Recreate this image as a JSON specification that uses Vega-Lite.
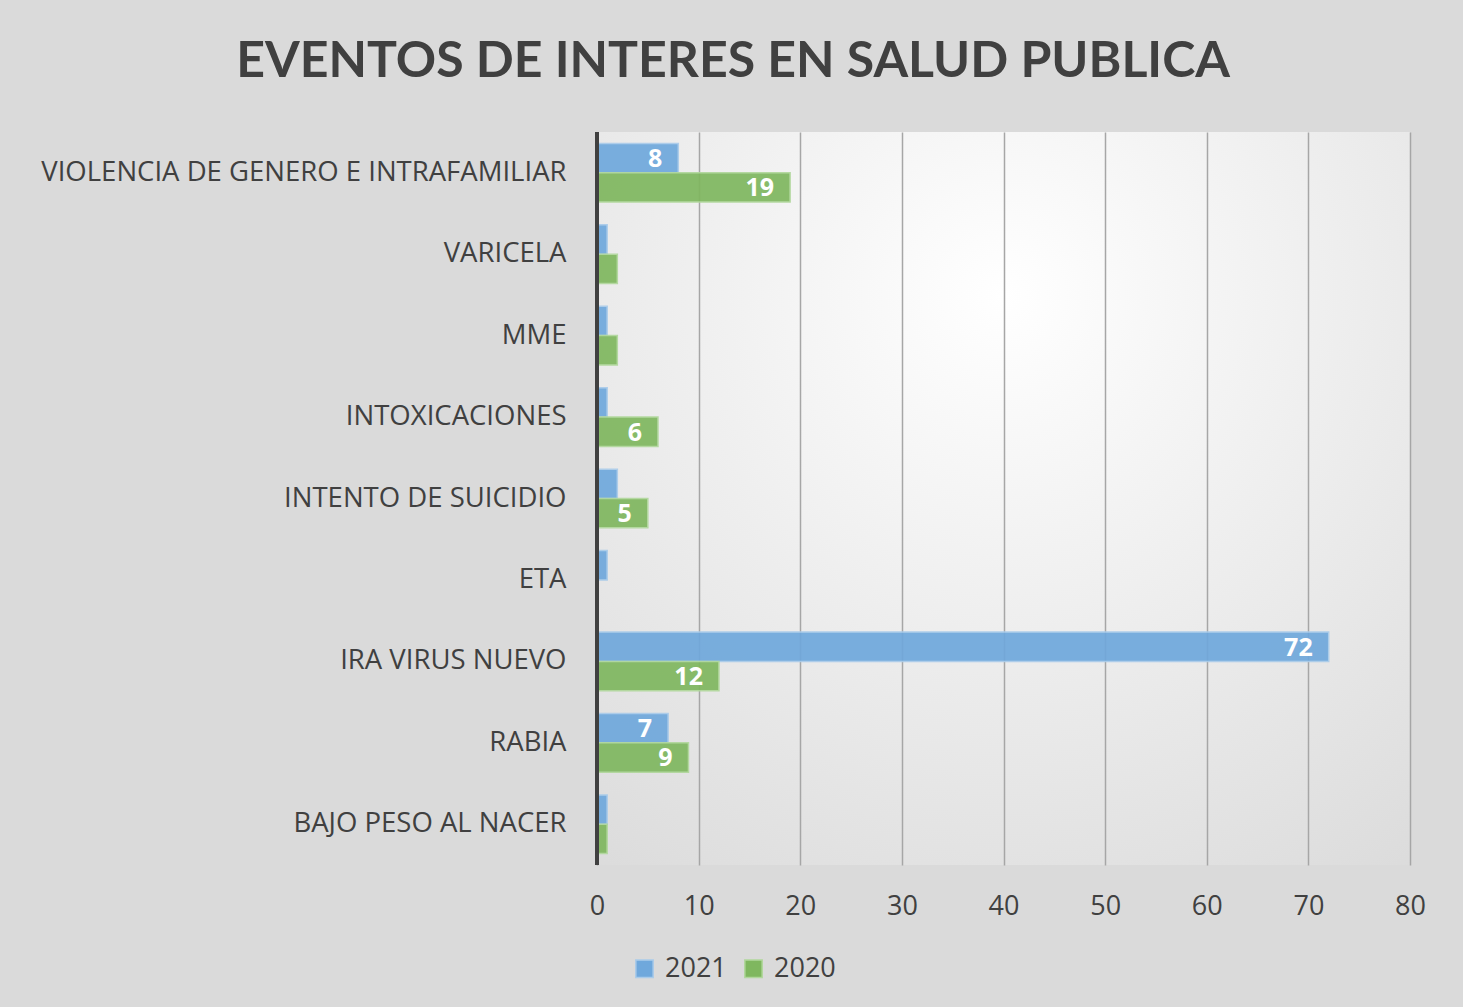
{
  "$schema": "https://vega.github.io/schema/vega-lite/v6.json",
  "autosize": {"type": "none"},
  "padding": {"left": 597, "top": 132, "right": 53, "bottom": 142},
  "width": 813,
  "height": 733,
  "background": "#dadada",
  "title": {
    "text": "EVENTOS DE INTERES EN SALUD PUBLICA",
    "font": "Lato",
    "fontWeight": "bold",
    "fontSize": 50,
    "color": "#404040",
    "anchor": "middle",
    "frame": "bounds",
    "offset": 44
  },
  "data": {
    "values": [
      {"evento": "VIOLENCIA DE GENERO E INTRAFAMILIAR", "anio": "2021", "casos": 8},
      {"evento": "VIOLENCIA DE GENERO E INTRAFAMILIAR", "anio": "2020", "casos": 19},
      {"evento": "VARICELA", "anio": "2021", "casos": 1},
      {"evento": "VARICELA", "anio": "2020", "casos": 2},
      {"evento": "MME", "anio": "2021", "casos": 1},
      {"evento": "MME", "anio": "2020", "casos": 2},
      {"evento": "INTOXICACIONES", "anio": "2021", "casos": 1},
      {"evento": "INTOXICACIONES", "anio": "2020", "casos": 6},
      {"evento": "INTENTO DE SUICIDIO", "anio": "2021", "casos": 2},
      {"evento": "INTENTO DE SUICIDIO", "anio": "2020", "casos": 5},
      {"evento": "ETA", "anio": "2021", "casos": 1},
      {"evento": "ETA", "anio": "2020", "casos": 0},
      {"evento": "IRA VIRUS NUEVO", "anio": "2021", "casos": 72},
      {"evento": "IRA VIRUS NUEVO", "anio": "2020", "casos": 12},
      {"evento": "RABIA", "anio": "2021", "casos": 7},
      {"evento": "RABIA", "anio": "2020", "casos": 9},
      {"evento": "BAJO PESO AL NACER", "anio": "2021", "casos": 1},
      {"evento": "BAJO PESO AL NACER", "anio": "2020", "casos": 1}
    ]
  },
  "encoding": {
    "y": {
      "field": "evento",
      "type": "nominal",
      "sort": null,
      "scale": {"paddingInner": 0.28, "paddingOuter": 0.14},
      "axis": {
        "title": null,
        "labelFont": "Open Sans",
        "labelFontSize": 27.5,
        "labelColor": "#404040",
        "labelPadding": 31,
        "labelLimit": 700,
        "ticks": false,
        "domain": false
      }
    },
    "yOffset": {"field": "anio", "type": "nominal", "sort": ["2021", "2020"]},
    "x": {
      "field": "casos",
      "type": "quantitative",
      "scale": {"domain": [0, 80]},
      "axis": {
        "title": null,
        "values": [0, 10, 20, 30, 40, 50, 60, 70, 80],
        "labelFont": "Open Sans",
        "labelFontSize": 27,
        "labelColor": "#404040",
        "labelPadding": 28,
        "labelFlush": false,
        "ticks": false,
        "domain": false,
        "grid": true,
        "gridColor": "#a6a6a6",
        "gridWidth": 1.5
      }
    }
  },
  "layer": [
    {
      "mark": {"type": "bar", "strokeWidth": 1.5, "opacity": 0.92},
      "encoding": {
        "color": {
          "field": "anio",
          "type": "nominal",
          "scale": {"domain": ["2021", "2020"], "range": ["#6fa8dc", "#7fb75f"]},
          "legend": {
            "title": null,
            "orient": "none",
            "direction": "horizontal",
            "legendX": 34,
            "legendY": 823,
            "symbolType": "square",
            "symbolSize": 300,
            "symbolOpacity": 1,
            "labelFont": "Open Sans",
            "labelFontSize": 27,
            "labelColor": "#404040",
            "columnPadding": 13,
            "labelOffset": 7
          }
        },
        "stroke": {
          "field": "anio",
          "type": "nominal",
          "scale": {"domain": ["2021", "2020"], "range": ["#a9cbea", "#b0d79b"]},
          "legend": null
        }
      }
    },
    {
      "transform": [{"filter": "datum.casos >= 5"}],
      "mark": {
        "type": "text",
        "align": "right",
        "baseline": "middle",
        "dx": -16,
        "dy": 1,
        "font": "Open Sans",
        "fontWeight": "bold",
        "fontSize": 25,
        "color": "white"
      },
      "encoding": {"text": {"field": "casos", "type": "quantitative"}}
    },
    {
      "mark": {"type": "rule", "color": "#404040", "strokeWidth": 3},
      "encoding": {"x": {"datum": 0}, "y": null, "yOffset": null}
    }
  ],
  "config": {
    "view": {
      "stroke": null,
      "fill": {
        "gradient": "radial",
        "x1": 0.5, "y1": 0.25, "r1": 0,
        "x2": 0.5, "y2": 0.25, "r2": 0.95,
        "stops": [
          {"offset": 0, "color": "#ffffff"},
          {"offset": 1, "color": "#d8d8d8"}
        ]
      }
    }
  }
}
